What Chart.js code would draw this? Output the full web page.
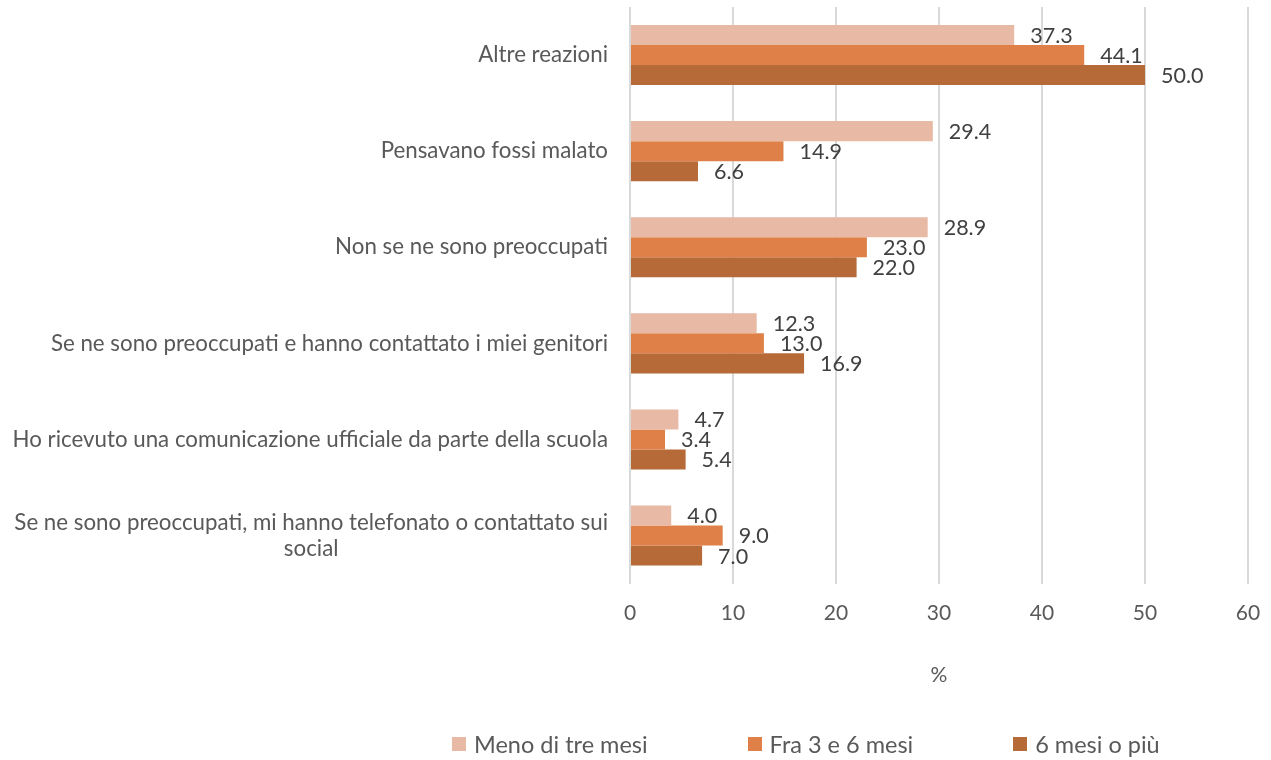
<!DOCTYPE html>
<html lang="it">
<head>
<meta charset="UTF-8">
<title>Reazioni</title>
<script src="https://cdn.jsdelivr.net/npm/chart.js"></script>
<style>
  html, body { margin: 0; padding: 0; background: #fff; }
  #wrap { position: relative; width: 1271px; height: 760px; }
  #legend { position: absolute; left: 452px; top: 730px; display: flex; font-family: Lato, sans-serif; font-size: 23.5px; color: #595959; }
  #legend .item { display: flex; align-items: center; margin-right: 100px; }
  #legend .box { width: 14px; height: 14px; margin-right: 8px; }
</style>
</head>
<body>
<div id="wrap">
  <canvas id="chart" width="1271" height="760"></canvas>
  <div id="legend"></div>
</div>
<script>
const categories = [
  'Altre reazioni',
  'Pensavano fossi malato',
  'Non se ne sono preoccupati',
  'Se ne sono preoccupati e hanno contattato i miei genitori',
  'Ho ricevuto una comunicazione ufficiale da parte della scuola',
  ['Se ne sono preoccupati, mi hanno telefonato o contattato sui', 'social']
];
const seriesNames = ['Meno di tre mesi', 'Fra 3 e 6 mesi', '6 mesi o più'];
const menoDiTre = [37.3, 29.4, 28.9, 12.3, 4.7, 4.0];
const fra3e6 = [44.1, 14.9, 23.0, 13.0, 3.4, 9.0];
const seiPiu = [50.0, 6.6, 22.0, 16.9, 5.4, 7.0];
const colors = ['#E8B9A5', '#DE8047', '#B66A38'];
const xMax = 60;
const xStep = 10;

const FONT = 'Lato, sans-serif';

// category labels drawn by hand so wrapped lines stay centred
const yLabels = {
  id: 'yLabels',
  afterDraw(chart) {
    const { ctx, scales: { y }, chartArea } = chart;
    ctx.save();
    ctx.font = '22.3px ' + FONT;
    ctx.fillStyle = '#595959';
    ctx.textAlign = 'center';
    ctx.textBaseline = 'middle';
    const right = chartArea.left - 22;
    categories.forEach((c, i) => {
      const lines = Array.isArray(c) ? c : [c];
      const w = Math.max(...lines.map(l => ctx.measureText(l).width));
      const yc = y.getPixelForValue(i);
      lines.forEach((l, j) => {
        ctx.fillText(l, right - w / 2, yc + (j - (lines.length - 1) / 2) * 26);
      });
    });
    ctx.restore();
  }
};

// value labels at bar ends
const valueLabels = {
  id: 'valueLabels',
  afterDatasetsDraw(chart) {
    const { ctx } = chart;
    ctx.save();
    ctx.font = '21.5px ' + FONT;
    ctx.fillStyle = '#404040';
    ctx.textAlign = 'left';
    ctx.textBaseline = 'middle';
    chart.data.datasets.forEach((ds, i) => {
      chart.getDatasetMeta(i).data.forEach((bar, j) => {
        ctx.fillText(ds.data[j].toFixed(1), bar.x + 16, bar.y + 1);
      });
    });
    ctx.restore();
  }
};

const allSeries = [menoDiTre, fra3e6, seiPiu];

new Chart(document.getElementById('chart').getContext('2d'), {
  type: 'bar',
  data: {
    labels: categories,
    datasets: allSeries.map((d, i) => ({
      label: seriesNames[i],
      data: d,
      backgroundColor: colors[i],
      borderWidth: 0,
      categoryPercentage: 0.625,
      barPercentage: 1
    }))
  },
  options: {
    indexAxis: 'y',
    responsive: false,
    animation: false,
    layout: { padding: { left: 0, right: 23, top: 7, bottom: 72 } },
    plugins: {
      legend: { display: false },
      tooltip: { enabled: false }
    },
    scales: {
      x: {
        min: 0,
        max: xMax,
        ticks: { stepSize: xStep, padding: 17, color: '#595959', font: { family: FONT, size: 21 } },
        grid: { color: '#d9d9d9', lineWidth: 2, drawTicks: false },
        border: { display: false },
        title: { display: true, text: '%', color: '#595959', padding: { top: 20, bottom: 0 }, font: { family: FONT, size: 21 } },
        afterFit(scale) { scale.paddingLeft = 0; scale.paddingRight = 0; }
      },
      y: {
        ticks: { display: false },
        grid: { display: false },
        border: { display: false },
        afterFit(scale) { scale.width = 630; }
      }
    }
  },
  plugins: [yLabels, valueLabels]
});

const legend = document.getElementById('legend');
seriesNames.forEach((name, i) => {
  const item = document.createElement('div');
  item.className = 'item';
  item.innerHTML = '<span class="box" style="background:' + colors[i] + '"></span><span>' + name + '</span>';
  legend.appendChild(item);
});
</script>
</body>
</html>
